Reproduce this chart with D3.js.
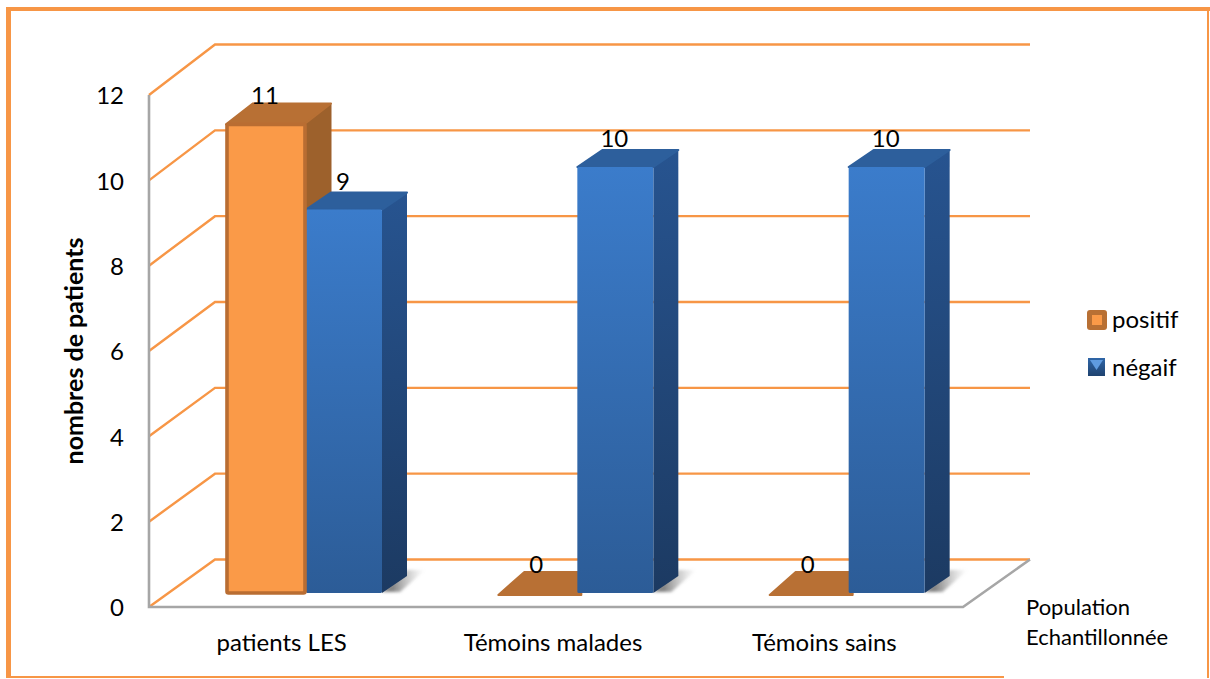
<!DOCTYPE html>
<html lang="fr">
<head>
<meta charset="utf-8">
<title>nombres de patients</title>
<script src="https://cdn.jsdelivr.net/npm/d3@7"></script>
<style>
  html, body { margin: 0; padding: 0; background: #fff; }
  svg { display: block; }
  text { font-family: Lato, "Open Sans", sans-serif; fill: #000; }
</style>
</head>
<body>
<svg id="chart" width="1210" height="679"></svg>
<script>
// Values
const categories = ["patients LES", "Témoins malades", "Témoins sains"];
const seriesNames = ["positif", "négaif"];
const positif = [11, 0, 0];
const negatif = [9, 10, 10];
const yTicks = [0, 2, 4, 6, 8, 10, 12];
const yTitle = "nombres de patients";
const xTitle = ["Population", "Echantillonnée"];

const svg = d3.select("#chart");
const W = 1210, H = 679;
const labelSize = 24;

// Gradients for the 3D faces
const defs = svg.append("defs");
function vGrad(id, a, b) {
  const g = defs.append("linearGradient").attr("id", id)
    .attr("x1", 0).attr("y1", 0).attr("x2", 0).attr("y2", 1);
  g.append("stop").attr("offset", "0%").attr("stop-color", a);
  g.append("stop").attr("offset", "100%").attr("stop-color", b);
}
vGrad("blueFront", "#3b7ccb", "#2c5c97");
vGrad("blueSide", "#275490", "#1c3a62");
vGrad("swatchBlue", "#2f66a8", "#1f426f");
const sh = defs.append("linearGradient").attr("id", "floorShadow")
  .attr("x1", 0).attr("y1", 0).attr("x2", 1).attr("y2", 0);
sh.append("stop").attr("offset", "25%").attr("stop-color", "#666").attr("stop-opacity", 0.8);
sh.append("stop").attr("offset", "100%").attr("stop-color", "#aaa").attr("stop-opacity", 0);
defs.append("filter").attr("id", "soften")
  .attr("x", "-20%").attr("y", "-20%").attr("width", "140%").attr("height", "140%")
  .append("feGaussianBlur").attr("stdDeviation", 1.5);

// Outer frame
const frameColor = "#f79646";
svg.append("rect").attr("x", 6).attr("y", 7).attr("width", 5).attr("height", H - 8).attr("fill", frameColor);
svg.append("rect").attr("x", 6).attr("y", 7).attr("width", W - 6).attr("height", 4).attr("fill", frameColor);
svg.append("rect").attr("x", 1207).attr("y", 7).attr("width", 2).attr("height", H - 8).attr("fill", frameColor);
svg.append("rect").attr("x", 6).attr("y", 676).attr("width", 998).attr("height", 2).attr("fill", frameColor);

// Scales: front edge of the walls, back edge of the walls, bar heights
const yFront = d3.scaleLinear().domain([0, 12]).range([607, 95]);
const yBack = d3.scaleLinear().domain([0, 12]).range([559.5, 44.5]);
const yBar = d3.scaleLinear().domain([0, 12]).range([593, 81.8]);
const xCat = d3.scaleBand().domain(categories).range([149, 963]);
const xSeries = d3.scaleBand().domain(seriesNames).range([77, 233]);
const xFront = 149, xBack = 215, xWallEnd = 1030;
const xFloorEnd = xCat.range()[1];

// Gridlines running along the side wall and the back wall
const grid = svg.append("g").attr("fill", "none").attr("stroke", "#f79646").attr("stroke-width", 2.4);
grid.selectAll("polyline").data(yTicks).join("polyline")
  .attr("points", d => [[xFront, yFront(d)], [xBack, yBack(d)], [xWallEnd, yBack(d)]].join(" "));

// Axis frame and floor edges
const frame = svg.append("g").attr("fill", "none").attr("stroke", "#a6a6a6").attr("stroke-width", 2.6);
frame.append("polyline").attr("points", [
  [xFront, yFront(12)], [xFront, yFront(0)], [xFloorEnd, yFront(0)], [xWallEnd, yBack(0)]
].join(" "));

// Value axis labels
const yAxis = svg.append("g").attr("transform", `translate(${xFront - 25},1)`)
  .call(d3.axisLeft(yFront).tickValues(yTicks).tickSize(0).tickPadding(0));
yAxis.select(".domain").remove();
yAxis.selectAll("text").attr("font-size", labelSize).style("font-family", "Lato, sans-serif");

// Category labels
const xAxis = svg.append("g").attr("transform", `translate(-3,${yFront(0)})`)
  .call(d3.axisBottom(xCat).tickSize(0).tickPadding(27));
xAxis.select(".domain").remove();
xAxis.selectAll("text").attr("font-size", labelSize).style("font-family", "Lato, sans-serif");

// Axis titles
svg.append("text").attr("transform", "translate(83,351) rotate(-90)")
  .attr("text-anchor", "middle").attr("font-size", 25).attr("font-weight", 700).text(yTitle);
svg.append("g").selectAll("text").data(xTitle).join("text")
  .attr("x", 1026).attr("y", (d, i) => 615 + i * 30)
  .attr("font-size", 22).text(d => d);

// 3D columns; the orange series has a heavier outline and a deeper offset
const palette = {
  "positif": { front: "#fa9a48", side: "#9d612c", top: "#b87034", stroke: "#b96d32", dx: 27, dy: -21, inset: 0 },
  "négaif": { front: "url(#blueFront)", side: "url(#blueSide)", top: "#2d5f9c", stroke: "none", dx: 25, dy: -17, inset: 2 }
};
const poly = pts => pts.map(p => p.join(",")).join(" ");
const rows = categories.flatMap((c, i) => [
  { cat: c, series: "positif", value: positif[i] },
  { cat: c, series: "négaif", value: negatif[i] }
]);
const bw = xSeries.bandwidth();
const barX = d => xCat(d.cat) + xSeries(d.series);

function drawBody(g, d) {
  const p = palette[d.series], x0 = barX(d) + p.inset, x1 = barX(d) + bw, yT = yBar(d.value), yB = yBar(0);
  if (d.value === 0) return;
  if (d.series === "négaif") {
    // Soft shadow cast on the floor
    g.append("polygon")
      .attr("points", poly([[x1, yB - 1], [x1 + p.dx, yB - 23], [x1 + 43, yB - 23], [x1 + 18, yB - 1]]))
      .attr("fill", "url(#floorShadow)").attr("filter", "url(#soften)");
  }
  g.append("polygon").attr("points", poly([[x1, yT], [x1 + p.dx, yT + p.dy], [x1 + p.dx, yB + p.dy], [x1, yB]]))
    .attr("fill", p.side).attr("stroke", d.series === "positif" ? p.side : "none");
  g.append("polygon").attr("points", poly([[x0, yT], [x0 + p.dx, yT + p.dy], [x1 + p.dx, yT + p.dy], [x1, yT]]))
    .attr("fill", p.top).attr("stroke", p.top).attr("stroke-width", 2).attr("stroke-linejoin", "round");
}
function drawFront(g, d) {
  const p = palette[d.series], x0 = barX(d) + p.inset, x1 = barX(d) + bw, yT = yBar(d.value), yB = yBar(0);
  if (d.value === 0) {
    // A zero value leaves a flat plate on the floor
    g.append("polygon").attr("points", poly([[x0 + 1, yB + 2], [x0 + p.dx, yB + p.dy], [x1 + 6, yB + p.dy], [x1 + 6, yB + 2]]))
      .attr("fill", p.top).attr("stroke", p.top).attr("stroke-width", 2).attr("stroke-linejoin", "round");
    return;
  }
  g.append("rect").attr("x", x0 + (d.series === "positif" ? 1 : 0)).attr("y", yT)
    .attr("width", x1 - x0).attr("height", yB - yT)
    .attr("fill", p.front).attr("stroke", p.stroke)
    .attr("stroke-width", d.series === "positif" ? 3.6 : 0).attr("rx", 1.5);
}

const bars = svg.append("g");
const inSeries = s => rows.filter(r => r.series === s);
inSeries("positif").forEach(d => drawBody(bars, d));
inSeries("positif").filter(d => d.value === 0).forEach(d => drawFront(bars, d));
inSeries("négaif").forEach(d => { drawBody(bars, d); drawFront(bars, d); });
inSeries("positif").filter(d => d.value > 0).forEach(d => drawFront(bars, d));

// Value labels
svg.append("g").selectAll("text").data(rows).join("text")
  .attr("x", d => barX(d) + bw / 2)
  .attr("y", d => yBar(d.value) - 20)
  .attr("text-anchor", "middle").attr("font-size", labelSize).text(d => d.value);

// Legend
const lg = svg.append("g");
lg.append("rect").attr("x", 1087).attr("y", 310).attr("width", 20).attr("height", 20).attr("rx", 3).attr("fill", "#b87034");
lg.append("rect").attr("x", 1092).attr("y", 315).attr("width", 10).attr("height", 10).attr("fill", "#fa9a48");
lg.append("rect").attr("x", 1088).attr("y", 358).attr("width", 17).attr("height", 18).attr("fill", "url(#swatchBlue)");
lg.append("polygon").attr("points", "1090,360 1103,360 1096.5,370").attr("fill", "#5f9be0");
lg.selectAll("text").data(seriesNames).join("text")
  .attr("x", 1112).attr("y", (d, i) => 328 + i * 48)
  .attr("font-size", labelSize).text(d => d);
</script>
</body>
</html>
